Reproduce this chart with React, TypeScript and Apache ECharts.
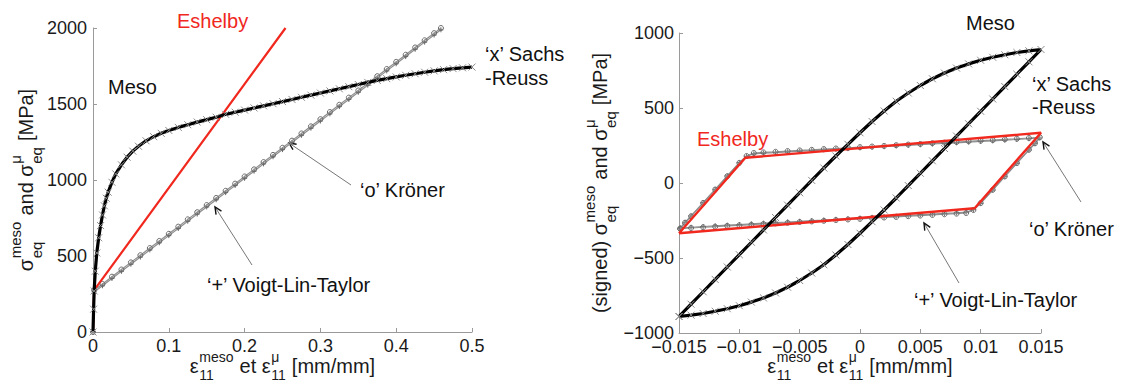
import React, { useEffect, useRef } from 'react';
import * as echarts from 'echarts';

const FONT = '"Liberation Sans", Arial, Helvetica, sans-serif';

// ---------------- Left panel: monotonic loading ----------------
const leftXTicks = [0, 0.1, 0.2, 0.3, 0.4, 0.5];
const leftYTicks = [0, 500, 1000, 1500, 2000];

const leftMesoX = [0, 0.0008, 0.0015, 0.003, 0.005, 0.0075, 0.01, 0.0125, 0.015, 0.0175, 0.02, 0.025, 0.03, 0.0375, 0.045, 0.0525, 0.06, 0.07, 0.08, 0.09, 0.1, 0.1125, 0.125, 0.1375, 0.15, 0.1625, 0.175, 0.1875, 0.2, 0.2125, 0.225, 0.2375, 0.25, 0.2625, 0.275, 0.2875, 0.3, 0.3125, 0.325, 0.3375, 0.35, 0.3625, 0.375, 0.3875, 0.4, 0.4125, 0.425, 0.4375, 0.45, 0.4625, 0.475, 0.4875, 0.5];
const leftMesoY = [0, 150, 270, 400, 520, 620, 700, 770, 830, 880, 920, 985, 1040, 1100, 1150, 1190, 1222, 1258, 1285, 1307, 1326, 1346, 1364, 1381, 1397, 1413, 1432, 1446, 1460, 1474, 1488, 1502, 1516, 1530, 1544, 1558, 1572, 1586, 1600, 1614, 1628, 1642, 1655, 1667, 1678, 1689, 1699, 1709, 1718, 1726, 1733, 1738, 1743];

const leftEshelbyX = [0, 0.0015, 0.254];
const leftEshelbyY = [0, 275, 2000];

const leftLinX = [0, 0.0015, 0.0125, 0.025, 0.0375, 0.05, 0.0625, 0.075, 0.0875, 0.1, 0.1125, 0.125, 0.1375, 0.15, 0.1625, 0.175, 0.1875, 0.2, 0.2125, 0.225, 0.2375, 0.25, 0.2625, 0.275, 0.2875, 0.3, 0.3125, 0.325, 0.3375, 0.35, 0.3625, 0.375, 0.3875, 0.4, 0.4125, 0.425, 0.4375, 0.45, 0.459];
const leftKronerY = [0, 275, 316, 364, 411, 458, 505, 552, 599, 646, 693, 741, 788, 835, 882, 929, 976, 1023, 1070, 1118, 1165, 1212, 1259, 1306, 1353, 1400, 1447, 1495, 1542, 1589, 1636, 1683, 1730, 1777, 1824, 1872, 1919, 1966, 2000];
const leftVoigtY = [0, 263, 304, 352, 399, 446, 493, 540, 587, 634, 681, 729, 776, 823, 870, 917, 964, 1011, 1058, 1106, 1153, 1200, 1247, 1294, 1341, 1388, 1435, 1483, 1530, 1577, 1624, 1671, 1718, 1765, 1812, 1860, 1907, 1954, 1988];

// ---------------- Right panel: cyclic loading ----------------
const rightXTicks = [-0.015, -0.01, -0.005, 0, 0.005, 0.01, 0.015];
const rightYTicks = [-1000, -500, 0, 500, 1000];

const rightMesoX = [
  -0.015, -0.014, -0.013, -0.012, -0.011, -0.01, -0.009, -0.008, -0.007, -0.006, -0.005, -0.004, -0.003, -0.002, -0.001, 0,
  0.001, 0.002, 0.003, 0.004, 0.005, 0.006, 0.007, 0.008, 0.009, 0.01, 0.011, 0.012, 0.013, 0.014, 0.015,
  0.014, 0.013, 0.012, 0.011, 0.01, 0.009, 0.008, 0.007, 0.006, 0.005, 0.004, 0.003, 0.002, 0.001, 0,
  -0.001, -0.002, -0.003, -0.004, -0.005, -0.006, -0.007, -0.008, -0.009, -0.01, -0.011, -0.012, -0.013, -0.014, -0.015,
];
const rightMesoY = [
  -890, -808, -725, -643, -560, -478, -395, -313, -230, -148, -65, 17, 100, 180, 258, 335,
  410, 480, 545, 600, 650, 695, 733, 766, 794, 818, 838, 855, 870, 881, 890,
  808, 725, 643, 560, 478, 395, 313, 230, 148, 65, -17, -100, -180, -258, -335,
  -410, -480, -545, -600, -650, -695, -733, -766, -794, -818, -838, -855, -870, -881, -890,
];

const rightEshelbyX = [-0.015, -0.0095, 0.015, 0.0095, -0.015];
const rightEshelbyY = [-335, 168, 335, -168, -335];

const rightLoopX = [
  -0.0149, -0.0145, -0.014, -0.013, -0.012, -0.011, -0.01, -0.0094, -0.0088,
  -0.008, -0.007, -0.006, -0.005, -0.004, -0.003, -0.002, -0.001, 0, 0.001, 0.002, 0.003, 0.004, 0.005, 0.006, 0.007, 0.008, 0.009, 0.01, 0.011, 0.012, 0.013, 0.014, 0.0149,
  0.0145, 0.014, 0.013, 0.012, 0.011, 0.01, 0.0094, 0.0088,
  0.008, 0.007, 0.006, 0.005, 0.004, 0.003, 0.002, 0.001, 0, -0.001, -0.002, -0.003, -0.004, -0.005, -0.006, -0.007, -0.008, -0.009, -0.01, -0.011, -0.012, -0.013, -0.014, -0.0149,
];
const rightKronerY = [
  -305, -265, -222, -133, -44, 45, 134, 180, 200,
  204, 208, 213, 217, 221, 226, 230, 234, 239, 243, 247, 252, 256, 260, 265, 269, 273, 278, 282, 286, 291, 295, 300, 305,
  265, 222, 133, 44, -45, -134, -180, -200,
  -204, -208, -213, -217, -221, -226, -230, -234, -239, -243, -247, -252, -256, -260, -265, -269, -273, -278, -282, -286, -291, -295, -300, -305,
];
const rightVoigtY = [
  -300, -262, -220, -131, -42, 47, 136, 178, 194,
  199, 203, 208, 212, 216, 221, 225, 229, 234, 238, 242, 247, 251, 255, 260, 264, 268, 273, 277, 281, 286, 290, 295, 300,
  262, 220, 131, 42, -47, -136, -178, -194,
  -199, -203, -208, -212, -216, -221, -225, -229, -234, -238, -242, -247, -251, -255, -260, -264, -268, -273, -277, -281, -286, -290, -295, -300,
];

// ---------------- helpers ----------------
const zip = (xs: number[], ys: number[]) => xs.map((x, i) => [x, ys[i]]);
const step = (t: number[]) => +(t[1] - t[0]).toFixed(6);
const fmt = (v: number) => String(parseFloat(Number(v).toFixed(4))).replace('-', '\u2212');

const RED = '#f0281e';
const GRAY_LINE = '#8e8e8e';
const GRAY_MARK = '#6a6a6a';
const X_SYM = 'path://M0,0L10,10M10,0L0,10';
const PLUS_SYM = 'path://M5,0L5,10M0,5L10,5';

let measureCtx: CanvasRenderingContext2D | null = null;
function tw(text: string, size: number) {
  if (!measureCtx) measureCtx = document.createElement('canvas').getContext('2d');
  measureCtx!.font = `${size}px ${FONT}`;
  return measureCtx!.measureText(text).width;
}

type Atom = { t: string; sup?: string; sub?: string };
function mathChildren(atoms: Atom[], size: number, ss: number, supDy: number, subDy: number) {
  const items: any[] = [];
  let x = 0;
  const sp = tw(' ', size);
  for (const a of atoms) {
    const lead = a.t.length - a.t.trimStart().length;
    const trail = a.t.length - a.t.trimEnd().length;
    const core = a.t.trim();
    x += lead * sp;
    if (core) {
      items.push({ text: core, x, b: 0, size });
      x += tw(core, size);
    }
    if (a.sup || a.sub) {
      let w2 = 0;
      if (a.sup) { items.push({ text: a.sup, x: x + 0.5, b: supDy, size: ss }); w2 = Math.max(w2, tw(a.sup, ss)); }
      if (a.sub) { items.push({ text: a.sub, x: x + 0.5, b: subDy, size: ss }); w2 = Math.max(w2, tw(a.sub, ss)); }
      x += w2 + 1;
    }
    x += trail * sp;
  }
  const W = x;
  return items.map((it) => ({
    type: 'text',
    silent: true,
    x: it.x - W / 2,
    y: it.b - 0.3465 * it.size,
    style: {
      text: it.text, fill: '#1a1a1a', font: `${it.size}px ${FONT}`,
      textAlign: 'left', align: 'left', textVerticalAlign: 'middle', verticalAlign: 'middle',
    },
  }));
}

function label(text: string, x: number, y: number, color = '#111') {
  return {
    type: 'text', silent: true, x, y,
    style: {
      text, fill: color, font: `20px ${FONT}`,
      textAlign: 'left', align: 'left', textVerticalAlign: 'middle', verticalAlign: 'middle',
    },
  };
}

function arrow(x1: number, y1: number, x2: number, y2: number) {
  const dx = x2 - x1, dy = y2 - y1;
  const L = Math.hypot(dx, dy);
  const ux = dx / L, uy = dy / L;
  const hl = 7, hw = 3.2;
  const bx = x2 - ux * hl, by = y2 - uy * hl;
  return [
    { type: 'line', silent: true, shape: { x1, y1, x2, y2 }, style: { stroke: '#777', lineWidth: 1 } },
    {
      type: 'polyline', silent: true,
      shape: { points: [[bx - uy * hw, by + ux * hw], [x2, y2], [bx + uy * hw, by - ux * hw]] },
      style: { stroke: '#111', lineWidth: 1.4, fill: null },
    },
  ];
}

const xTitleAtoms: Atom[] = [
  { t: '\u03b5', sup: 'meso', sub: '11' }, { t: ' et ' }, { t: '\u03b5', sup: '\u03bc', sub: '11' }, { t: ' [mm/mm]' },
];
const yTitleAtoms: Atom[] = [
  { t: '\u03c3', sup: 'meso', sub: 'eq' }, { t: ' and ' }, { t: '\u03c3', sup: '\u03bc', sub: 'eq' }, { t: ' [MPa]' },
];
const yTitleAtomsSigned: Atom[] = [{ t: '(signed) ' }, ...yTitleAtoms];

export default function App() {
  const ref = useRef<HTMLDivElement>(null);
  useEffect(() => {
    if (!ref.current) return;
    const chart = echarts.init(ref.current, undefined, { renderer: 'svg' });

    const axisBase = (gridIndex: number, ticks: number[], margin: number) => ({
      gridIndex,
      type: 'value',
      min: ticks[0],
      max: ticks[ticks.length - 1],
      interval: step(ticks),
      axisLine: { onZero: false, lineStyle: { color: '#9a9a9a', width: 1 } },
      axisTick: { inside: true, length: 4, lineStyle: { color: '#9a9a9a' } },
      splitLine: { show: false },
      axisLabel: { color: '#1a1a1a', fontSize: 18, fontFamily: FONT, margin, formatter: fmt },
    });

    const lineSeries = (xi: number, data: number[][], color: string, width: number, symbol: string, symColor: string, symbolSize: number, z: number) => ({
      type: 'line',
      xAxisIndex: xi,
      yAxisIndex: xi,
      data,
      z,
      symbol,
      symbolSize,
      showSymbol: symbol !== 'none',
      clip: false,
      lineStyle: { color, width },
      itemStyle: { color: 'rgba(0,0,0,0)', borderColor: symColor, borderWidth: 1 },
      emphasis: { disabled: true },
    });

    const graphics: any[] = [
      // Left panel annotations
      label('Eshelby', 177, 21, RED),
      label('Meso', 108, 87),
      label('\u2018x\u2019 Sachs', 485, 54),
      label('-Reuss', 485, 78),
      label('\u2018o\u2019 Kr\u00f6ner', 360, 190),
      label('\u2018+\u2019 Voigt-Lin-Taylor', 207, 285),
      ...arrow(351, 185, 289, 143),
      ...arrow(252, 265, 215, 207),
      // Right panel annotations
      label('Meso', 966, 23),
      label('\u2018x\u2019 Sachs', 1032, 84),
      label('-Reuss', 1032, 107),
      label('Eshelby', 697, 139, RED),
      label('\u2018o\u2019 Kr\u00f6ner', 1029, 229),
      label('\u2018+\u2019 Voigt-Lin-Taylor', 914, 300),
      ...arrow(1081, 202, 1043, 142),
      ...arrow(959, 283, 924, 223),
      // Axis titles
      { type: 'group', x: 282.5, y: 373, children: mathChildren(xTitleAtoms, 20, 14, -11, 7) },
      { type: 'group', x: 860, y: 373, children: mathChildren(xTitleAtoms, 20, 14, -11, 7) },
      { type: 'group', x: 33, y: 180, rotation: Math.PI / 2, children: mathChildren(yTitleAtoms, 20, 15, -12.4, 9) },
      { type: 'group', x: 607, y: 183, rotation: Math.PI / 2, children: mathChildren(yTitleAtomsSigned, 20, 15, -12.4, 9) },
    ];

    chart.setOption({
      animation: false,
      backgroundColor: '#fff',
      grid: [
        { left: 93, top: 28, width: 379, height: 304 },
        { left: 679, top: 33, width: 362, height: 300 },
      ],
      xAxis: [axisBase(0, leftXTicks, 5), axisBase(1, rightXTicks, 5)],
      yAxis: [axisBase(0, leftYTicks, 6), axisBase(1, rightYTicks, 5)],
      series: [
        lineSeries(0, zip(leftLinX, leftVoigtY), GRAY_LINE, 1.2, PLUS_SYM, GRAY_MARK, 5, 2),
        lineSeries(0, zip(leftLinX, leftKronerY), GRAY_LINE, 1.2, 'circle', GRAY_MARK, 5, 3),
        lineSeries(0, zip(leftEshelbyX, leftEshelbyY), RED, 2.2, 'none', RED, 0, 4),
        lineSeries(0, zip(leftMesoX, leftMesoY), '#000', 3.2, X_SYM, '#8a8a8a', 7, 5),
        lineSeries(1, zip(rightLoopX, rightVoigtY), GRAY_LINE, 1.2, PLUS_SYM, GRAY_MARK, 5, 2),
        lineSeries(1, zip(rightLoopX, rightKronerY), GRAY_LINE, 1.2, 'circle', GRAY_MARK, 5, 3),
        lineSeries(1, zip(rightEshelbyX, rightEshelbyY), RED, 2.4, 'none', RED, 0, 4),
        lineSeries(1, zip(rightMesoX, rightMesoY), '#000', 3.2, X_SYM, '#8a8a8a', 7, 5),
      ],
      graphic: { elements: graphics },
    });

    return () => chart.dispose();
  }, []);

  return (
    <div
      ref={ref}
      style={{ position: 'absolute', left: 0, top: 0, width: 1125, height: 385, background: '#fff' }}
    />
  );
}
